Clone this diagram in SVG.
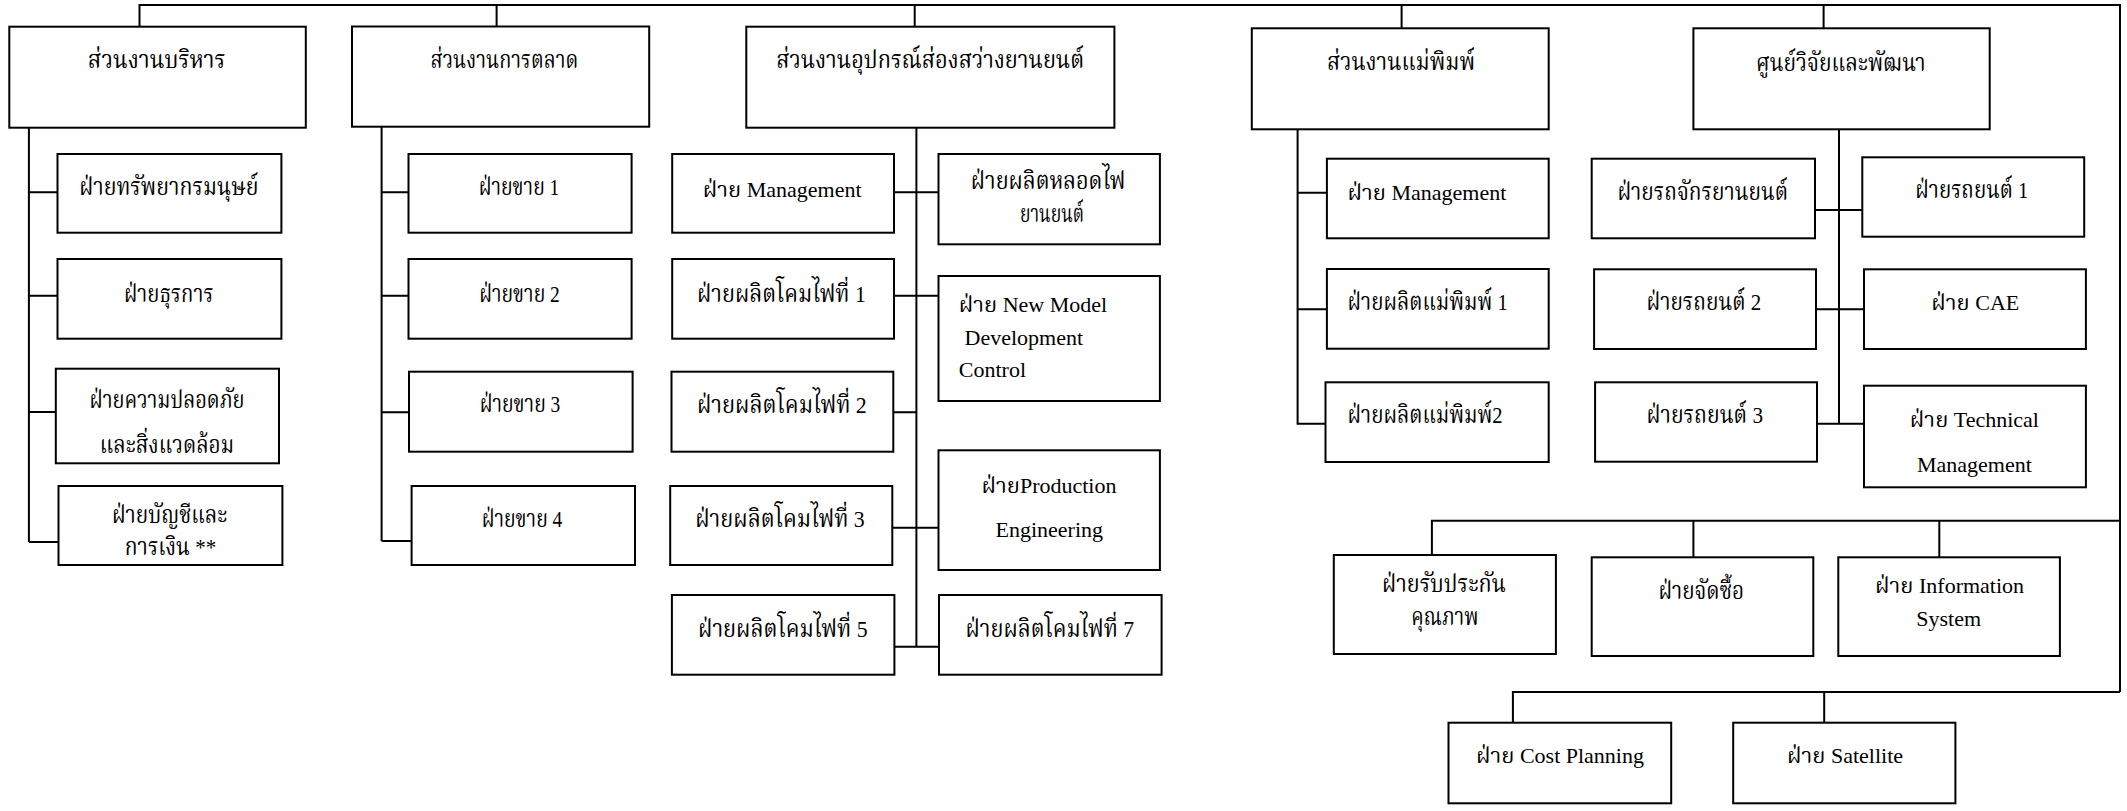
<svg xmlns="http://www.w3.org/2000/svg" width="2127" height="811" viewBox="0 0 2127 811">
<style>
.box{fill:#fff;stroke:#000;stroke-width:2}
.ln{fill:none;stroke:#000;stroke-width:2}
text{font-family:'Liberation Serif','Noto Serif Thai','Noto Sans Thai',serif;font-size:22px;fill:#000}
.c{text-anchor:middle}
.s{text-anchor:start}
.th{font-size:24px}
</style>
<rect width="2127" height="811" fill="#fff"/>
<g id="connectors">
<path class="ln" d="M139.5,27V5H2120V692"/>
<path class="ln" d="M496.6,5V26.5M914.7,5V27M1401.6,5V28.3M1823.6,5V28.3"/>
<path class="ln" d="M1431.9,555V520.7H2120M1693.4,520.7V557.3M1939.3,520.7V557.3"/>
<path class="ln" d="M1512.9,722.7V692H2120M1824.2,692V722.7"/>
<path class="ln" d="M28.9,127.7V542M28.9,192.3H57.5M28.9,295.7H57.5M28.9,412H55.8M28.9,542H58.5"/>
<path class="ln" d="M381.6,126.7V541M381.6,192.3H408.5M381.6,295.7H408.5M381.6,412.3H409M381.6,541H411.6"/>
<path class="ln" d="M916.4,127.7V646.7M894,192.3H938.5M894,295.7H938.5M893.3,412.3H916.4M892.3,527.7H938.5M894.4,646.7H939"/>
<path class="ln" d="M1297.6,129.3V423.7H1325.5M1297.6,192.7H1326.9M1297.6,309.3H1326.9"/>
<path class="ln" d="M1839,129.3V423.7M1815,210H1862.3M1816,309.3H1864M1817,423.7H1864"/>
</g>
<g id="n-admin"><rect class="box" x="9.3" y="26.7" width="296.5" height="101"/><text class="c th" x="156.7" y="68" textLength="137.8" lengthAdjust="spacingAndGlyphs">ส่วนงานบริหาร</text></g>
<g id="n-hr"><rect class="box" x="57.5" y="154" width="223.9" height="78.7"/><text class="c th" x="168.8" y="195" textLength="179.1" lengthAdjust="spacingAndGlyphs">ฝ่ายทรัพยากรมนุษย์</text></g>
<g id="n-general"><rect class="box" x="57.5" y="259" width="223.9" height="79.7"/><text class="c th" x="168.8" y="301.7" textLength="89.5" lengthAdjust="spacingAndGlyphs">ฝ่ายธุรการ</text></g>
<g id="n-safety"><rect class="box" x="55.8" y="368.7" width="223.2" height="94.6"/><text class="c th" x="167" y="408.3" textLength="155" lengthAdjust="spacingAndGlyphs">ฝ่ายความปลอดภัย</text><text class="c th" x="167" y="452.7" textLength="134.3" lengthAdjust="spacingAndGlyphs">และสิ่งแวดล้อม</text></g>
<g id="n-account"><rect class="box" x="58.5" y="486" width="223.9" height="79"/><text class="c th" x="169.6" y="523.3" textLength="115.4" lengthAdjust="spacingAndGlyphs">ฝ่ายบัญชีและ</text><text class="c th" x="170.5" y="555" textLength="91.6" lengthAdjust="spacingAndGlyphs">การเงิน **</text></g>
<g id="n-marketing"><rect class="box" x="352" y="26.5" width="297.2" height="100.2"/><text class="c th" x="504.4" y="68" textLength="147.7" lengthAdjust="spacingAndGlyphs">ส่วนงานการตลาด</text></g>
<g id="n-sales1"><rect class="box" x="408.5" y="154" width="223.1" height="78.7"/><text class="c th" x="519" y="195" textLength="80.6" lengthAdjust="spacingAndGlyphs">ฝ่ายขาย 1</text></g>
<g id="n-sales2"><rect class="box" x="408.5" y="259" width="223.1" height="79.7"/><text class="c th" x="519.5" y="301.7" textLength="80.6" lengthAdjust="spacingAndGlyphs">ฝ่ายขาย 2</text></g>
<g id="n-sales3"><rect class="box" x="409" y="371.7" width="223.6" height="80"/><text class="c th" x="520" y="412" textLength="80.6" lengthAdjust="spacingAndGlyphs">ฝ่ายขาย 3</text></g>
<g id="n-sales4"><rect class="box" x="411.6" y="486" width="223.4" height="79"/><text class="c th" x="522" y="526.7" textLength="80.6" lengthAdjust="spacingAndGlyphs">ฝ่ายขาย 4</text></g>
<g id="n-lighting"><rect class="box" x="746.3" y="26.7" width="368.1" height="101"/><text class="c th" x="930.2" y="68" textLength="307.9" lengthAdjust="spacingAndGlyphs">ส่วนงานอุปกรณ์ส่องสว่างยานยนต์</text></g>
<g id="n-l-mgmt"><rect class="box" x="672.2" y="154" width="221.8" height="78.7"/><text class="c" x="782.2" y="196.7" font-size="24">ฝ่าย Management</text></g>
<g id="n-lamp1"><rect class="box" x="672.2" y="259" width="221.8" height="79.7"/><text class="c th" x="781.4" y="301.7" textLength="168.8" lengthAdjust="spacingAndGlyphs">ฝ่ายผลิตโคมไฟที่ 1</text></g>
<g id="n-lamp2"><rect class="box" x="671.5" y="371.7" width="221.8" height="80"/><text class="c th" x="781.9" y="413.3" textLength="169.8" lengthAdjust="spacingAndGlyphs">ฝ่ายผลิตโคมไฟที่ 2</text></g>
<g id="n-lamp3"><rect class="box" x="670.2" y="486" width="222.1" height="79"/><text class="c th" x="780" y="526.7" textLength="169.4" lengthAdjust="spacingAndGlyphs">ฝ่ายผลิตโคมไฟที่ 3</text></g>
<g id="n-lamp5"><rect class="box" x="671.9" y="595" width="222.5" height="79.7"/><text class="c th" x="782.8" y="636.7" textLength="169.5" lengthAdjust="spacingAndGlyphs">ฝ่ายผลิตโคมไฟที่ 5</text></g>
<g id="n-bulb"><rect class="box" x="938.5" y="154" width="221.4" height="90.3"/><text class="c th" x="1048.1" y="189" textLength="154.6" lengthAdjust="spacingAndGlyphs">ฝ่ายผลิตหลอดไฟ</text><text class="c th" x="1052" y="222" textLength="64" lengthAdjust="spacingAndGlyphs">ยานยนต์</text></g>
<g id="n-newmodel"><rect class="box" x="938.5" y="276" width="221.4" height="125"/><text class="s" x="958.8" y="311.7" font-size="21.3">ฝ่าย New Model</text><text class="s" x="964.6" y="345" font-size="21">Development</text><text class="s" x="958.8" y="376.7" font-size="21">Control</text></g>
<g id="n-proeng"><rect class="box" x="938.5" y="450.3" width="221.4" height="119.7"/><text class="c" x="1049" y="493.3" font-size="23">ฝ่ายProduction</text><text class="c" x="1049.3" y="536.7">Engineering</text></g>
<g id="n-lamp7"><rect class="box" x="939" y="595" width="222.6" height="79.7"/><text class="c th" x="1049.8" y="636.7" textLength="168.4" lengthAdjust="spacingAndGlyphs">ฝ่ายผลิตโคมไฟที่ 7</text></g>
<g id="n-mold"><rect class="box" x="1251.8" y="28.3" width="296.9" height="101"/><text class="c th" x="1401" y="70" textLength="148.1" lengthAdjust="spacingAndGlyphs">ส่วนงานแม่พิมพ์</text></g>
<g id="n-m-mgmt"><rect class="box" x="1326.9" y="158.7" width="221.8" height="79.6"/><text class="s" x="1347.6" y="200">ฝ่าย Management</text></g>
<g id="n-mold1"><rect class="box" x="1326.9" y="269" width="221.8" height="79.7"/><text class="s th" x="1347.6" y="310" textLength="160.1" lengthAdjust="spacingAndGlyphs">ฝ่ายผลิตแม่พิมพ์ 1</text></g>
<g id="n-mold2"><rect class="box" x="1325.5" y="382.3" width="223.2" height="79.7"/><text class="s th" x="1347.6" y="423.3" textLength="155" lengthAdjust="spacingAndGlyphs">ฝ่ายผลิตแม่พิมพ์2</text></g>
<g id="n-rnd"><rect class="box" x="1693.4" y="28.3" width="296.3" height="101"/><text class="c th" x="1840.8" y="70.7" textLength="169.6" lengthAdjust="spacingAndGlyphs">ศูนย์วิจัยและพัฒนา</text></g>
<g id="n-moto"><rect class="box" x="1591.7" y="158.7" width="223.3" height="79.6"/><text class="c th" x="1702.7" y="200" textLength="170.6" lengthAdjust="spacingAndGlyphs">ฝ่ายรถจักรยานยนต์</text></g>
<g id="n-car1"><rect class="box" x="1862.3" y="157.3" width="221.9" height="79.4"/><text class="c th" x="1971.8" y="198.3" textLength="113.1" lengthAdjust="spacingAndGlyphs">ฝ่ายรถยนต์ 1</text></g>
<g id="n-car2"><rect class="box" x="1594.1" y="269.3" width="221.9" height="79.7"/><text class="c th" x="1703.8" y="310" textLength="114.7" lengthAdjust="spacingAndGlyphs">ฝ่ายรถยนต์ 2</text></g>
<g id="n-cae"><rect class="box" x="1864" y="269.3" width="221.9" height="79.7"/><text class="c" x="1975.3" y="310">ฝ่าย CAE</text></g>
<g id="n-car3"><rect class="box" x="1595.1" y="382.3" width="221.9" height="79.4"/><text class="c th" x="1704.8" y="423.3" textLength="116.5" lengthAdjust="spacingAndGlyphs">ฝ่ายรถยนต์ 3</text></g>
<g id="n-techmgmt"><rect class="box" x="1864" y="385.7" width="221.9" height="101.6"/><text class="c" x="1974.4" y="426.7" font-size="21.5">ฝ่าย Technical</text><text class="c" x="1974.4" y="471.7">Management</text></g>
<g id="n-qa"><rect class="box" x="1333.8" y="555" width="222.1" height="99"/><text class="c th" x="1444" y="591.7" textLength="124" lengthAdjust="spacingAndGlyphs">ฝ่ายรับประกัน</text><text class="c th" x="1444.9" y="625" textLength="67.1" lengthAdjust="spacingAndGlyphs">คุณภาพ</text></g>
<g id="n-purchase"><rect class="box" x="1591.7" y="557.3" width="221.6" height="98.7"/><text class="c th" x="1701.3" y="599.3" textLength="85.6" lengthAdjust="spacingAndGlyphs">ฝ่ายจัดซื้อ</text></g>
<g id="n-is"><rect class="box" x="1838.3" y="557.3" width="221.6" height="98.7"/><text class="c" x="1949.6" y="593.3">ฝ่าย Information</text><text class="c" x="1948.7" y="626">System</text></g>
<g id="n-cost"><rect class="box" x="1448.5" y="722.7" width="222.7" height="80.6"/><text class="c" x="1560" y="763.3">ฝ่าย Cost Planning</text></g>
<g id="n-satellite"><rect class="box" x="1733.2" y="722.7" width="222.2" height="80.6"/><text class="c" x="1845.1" y="763.3" font-size="21.5">ฝ่าย Satellite</text></g>
</svg>
